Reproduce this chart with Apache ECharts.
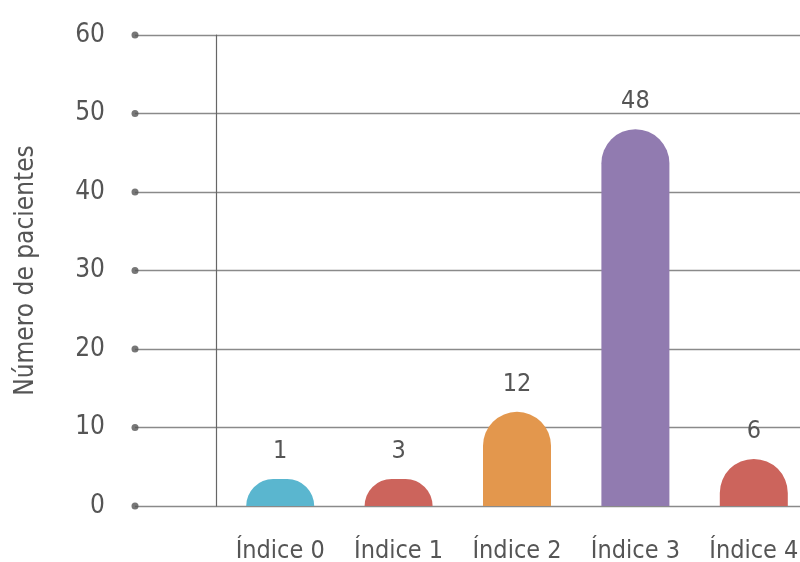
<!DOCTYPE html>
<html><head><meta charset="utf-8">
<script src="https://cdn.jsdelivr.net/npm/echarts@6/dist/echarts.min.js"></script>
<style>html,body{margin:0;padding:0;background:#fff}#c{width:800px;height:562px}</style>
</head><body><div id="c"></div>
<script>
const categories = ['Índice 0', 'Índice 1', 'Índice 2', 'Índice 3', 'Índice 4'];
const patients = [1, 3, 12, 48, 6];
const barColors = ['#5ab6cf', '#cc645c', '#e3974d', '#917bb0', '#cc645c'];
const yTicks = [0, 10, 20, 30, 40, 50, 60];
const yName = 'Número de pacientes';

const FONT = "'Liberation Sans Narrow', 'DejaVu Sans Condensed', Lato";
const chart = echarts.init(document.getElementById('c'));
chart.setOption({
  animation: false,
  textStyle: { fontFamily: FONT },
  grid: [
    { left: 135, right: 0, top: 35, bottom: 56, outerBoundsMode: 'none' },
    { left: 221, width: 592, top: 35, bottom: 56, outerBoundsMode: 'none' }
  ],
  xAxis: [
    { gridIndex: 0, type: 'value', min: 0, max: 100, show: false },
    { gridIndex: 1, type: 'category', data: categories,
      axisLine: { show: false }, axisTick: { show: false },
      axisLabel: { color: '#555', fontSize: 25, fontFamily: FONT, margin: 33 } }
  ],
  yAxis: [
    { gridIndex: 0, type: 'value', min: 0, max: 60, interval: 10,
      name: yName, nameLocation: 'middle', nameGap: 96,
      nameTextStyle: { color: '#555', fontSize: 26, fontFamily: FONT },
      axisLine: { show: false }, axisTick: { show: false },
      axisLabel: { color: '#555', fontSize: 26, fontFamily: FONT, margin: 30 },
      splitLine: { lineStyle: { color: '#8a8a8a', width: 1.3 } } },
    { gridIndex: 1, type: 'value', min: 0, max: 60, interval: 10, offset: 5,
      axisLine: { show: true, lineStyle: { color: '#666', width: 1.2 } },
      axisTick: { show: false }, axisLabel: { show: false }, splitLine: { show: false } }
  ],
  series: [
    { type: 'scatter', xAxisIndex: 0, yAxisIndex: 0, symbolSize: 7,
      itemStyle: { color: '#555' }, silent: true,
      data: yTicks.map(v => [0, v]) },
    { type: 'bar', xAxisIndex: 1, yAxisIndex: 1, barWidth: 68, barMinHeight: 27,
      data: patients.map((v, i) => ({ value: v, itemStyle: { color: barColors[i] } })),
      itemStyle: { borderRadius: [34, 34, 0, 0] },
      label: { show: true, position: 'top', distance: 15, color: '#555', fontSize: 25, fontFamily: FONT } }
  ]
});
</script></body></html>
